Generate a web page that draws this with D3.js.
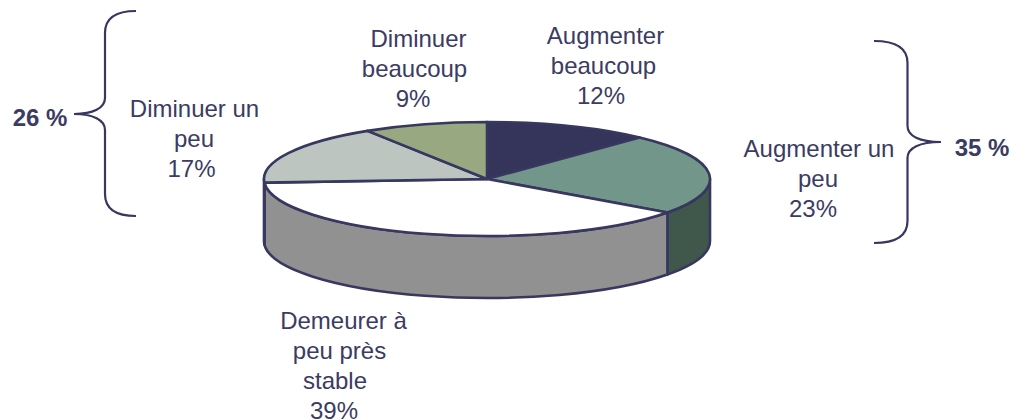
<!DOCTYPE html>
<html><head><meta charset="utf-8">
<script src="https://cdn.jsdelivr.net/npm/d3@7"></script>
<style>html,body{margin:0;padding:0;background:#fff}svg{display:block}text{font-family:"Liberation Sans",Arial,sans-serif;font-size:24px;fill:#3b3b63;text-anchor:middle}</style>
</head><body><svg id="c" width="1011" height="420"></svg>
<script>
const categories=["Augmenter beaucoup","Augmenter un peu","Demeurer à peu près stable","Diminuer un peu","Diminuer beaucoup"];
const values=[12,23,39,17,9];
const topColors=["#35355c","#72968a","#ffffff","#bcc5c0","#98a981"];
const wallColors=["#23233d","#40574c","#919191","#80857f","#667255"];
const labelLines=[["Augmenter","beaucoup","12%"],["Augmenter un","peu","23%"],["Demeurer à","peu près","stable","39%"],["Diminuer un","peu","17%"],["Diminuer","beaucoup","9%"]];
const labelX=[[605.5,603.5,601],[819,818,813],[343.5,339.5,335,334],[194.5,194,191.5],[418.5,414.5,413]];
const labelY=[44,157,329,117,47];
const groupTotals=["26 %","35 %"];

const ink="#37375f";
const cx=487,cy=179,rx=223,ry=57,depth=62;
const svg=d3.select("#c");
const px=a=>cx+rx*Math.sin(a), py=a=>cy-ry*Math.cos(a);
const pie=d3.pie().sort(null).value(d=>d)(values);
const arcTo=(a,b,dy=0,sweep=1)=>`A${rx},${ry} 0 ${Math.abs(b-a)>Math.PI?1:0} ${sweep} ${px(b)},${py(b)+dy}`;

// side walls (front half only)
pie.forEach((s,i)=>{
  const a=Math.max(s.startAngle,Math.PI/2), b=Math.min(s.endAngle,3*Math.PI/2);
  if(b<=a) return;
  svg.append("path")
    .attr("d",`M${px(a)},${py(a)}${arcTo(a,b)}L${px(b)},${py(b)+depth}${arcTo(b,a,depth,0)}Z`)
    .attr("fill",wallColors[i]).attr("stroke",ink).attr("stroke-width",2.6).attr("stroke-linejoin","round");
});
// top slices
pie.forEach((s,i)=>{
  svg.append("path")
    .attr("d",`M${cx},${cy}L${px(s.startAngle)},${py(s.startAngle)}${arcTo(s.startAngle,s.endAngle)}Z`)
    .attr("fill",topColors[i]).attr("stroke",ink).attr("stroke-width",2.6).attr("stroke-linejoin","round");
});
// labels
labelLines.forEach((lines,i)=>{
  const t=svg.append("text").attr("y",labelY[i]);
  lines.forEach((l,j)=>t.append("tspan").attr("x",labelX[i][j]).attr("dy",j?30:0).text(l));
});
// braces
const brace=(x,tipX,top,mid,bot,arm)=>{
  const d=Math.sign(x-tipX);
  const endX=x+d*arm;
  return `M${endX},${top}C${x+d*10},${top} ${x},${top+8} ${x},${top+22}L${x},${mid-16}C${x},${mid-6} ${x-d*12},${mid} ${tipX},${mid}`+
         `C${x-d*12},${mid} ${x},${mid+6} ${x},${mid+16}L${x},${bot-22}C${x},${bot-8} ${x+d*10},${bot} ${endX},${bot}`;
};
svg.append("path").attr("d",brace(105,74,11,114,216,31)).attr("fill","none").attr("stroke",ink).attr("stroke-width",2.2);
svg.append("path").attr("d",brace(907.5,941,41,142,243,33.5)).attr("fill","none").attr("stroke",ink).attr("stroke-width",2.2);
svg.append("text").attr("x",40).attr("y",126).style("font-weight","bold").text(groupTotals[0]);
svg.append("text").attr("x",982).attr("y",156).style("font-weight","bold").text(groupTotals[1]);
</script></body></html>
